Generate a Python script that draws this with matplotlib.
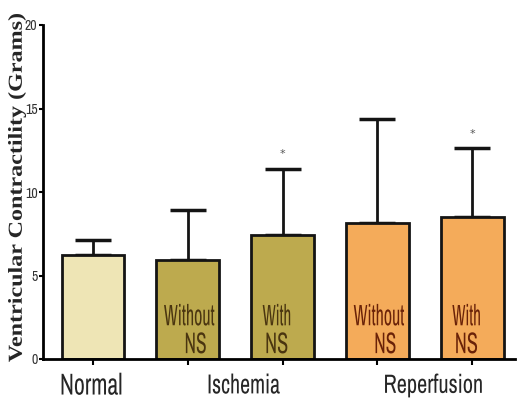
import numpy as np
import matplotlib.pyplot as plt
from matplotlib.textpath import TextPath
from matplotlib.patches import PathPatch
from matplotlib.font_manager import FontProperties
from matplotlib.transforms import Affine2D, Bbox, BboxTransform

groups = ["Normal", "Ischemia", "Reperfusion"]
bar_labels = [None, ("Without", "NS"), ("With", "NS"), ("Without", "NS"), ("With", "NS")]
means = [6.2, 5.9, 7.4, 8.15, 8.5]
sd_upper = [0.9, 3.0, 4.0, 6.25, 4.15]
starred = [False, False, True, False, True]
colors = ["#EEE5B5", "#BDAA4E", "#BDAA4E", "#F4AB5A", "#F4AB5A"]
text_colors = [None, "#4A3510", "#4A3510", "#6A2208", "#6A2208"]

narrow = FontProperties(family=["Archivo Narrow", "DejaVu Sans"])
serif_bold = FontProperties(family="Liberation Serif", weight="bold")


def boxed_text(s, box, trans, color, prop, rotate=0):
    # squeeze/stretch the glyph outlines so their ink fills the given box
    tp = TextPath((0, 0), s, size=20, prop=prop)
    if rotate:
        tp = tp.transformed(Affine2D().rotate_deg(rotate))
    fit = BboxTransform(tp.get_extents(), Bbox.from_extents(*box))
    patch = PathPatch(tp, transform=fit + trans, facecolor=color,
                      edgecolor="none", clip_on=False)
    fig.add_artist(patch)
    return patch


fig = plt.figure(figsize=(5.2, 3.99), dpi=100)
ax = fig.add_axes([43 / 520, 40 / 399, 472 / 520, 334 / 399])

x = np.arange(len(means))
ax.bar(x, means, width=0.66, color=colors, edgecolor="#141414", linewidth=2, zorder=2)
ax.errorbar(x, means, yerr=[np.zeros(len(means)), sd_upper], fmt="none",
            ecolor="#141414", elinewidth=2, capsize=13, capthick=2.5, zorder=1)

for xi, m, s, lab, st, tc in zip(x, means, sd_upper, bar_labels, starred, text_colors):
    if lab is not None:
        top, bottom = lab
        if top == "Without":
            boxed_text(top, (xi - 0.25, 2.0, xi + 0.28, 3.3), ax.transData, tc, narrow)
            boxed_text(bottom, (xi - 0.02, 0.33, xi + 0.19, 1.6), ax.transData, tc, narrow)
        else:
            boxed_text(top, (xi - 0.21, 2.0, xi + 0.08, 3.3), ax.transData, tc, narrow)
            boxed_text(bottom, (xi - 0.17, 0.33, xi + 0.05, 1.6), ax.transData, tc, narrow)
    if st:
        ax.text(xi, m + s + 0.55, "*", ha="center", va="bottom", fontsize=8,
                color="#555555")

ax.set_xlim(-0.526, 4.45)
ax.set_ylim(0, 20)
ax.set_yticks([0, 5, 10, 15, 20])
ax.set_xticks(x)
ax.set_xticklabels([])
ax.tick_params(axis="y", direction="out", length=3, width=1.5, pad=1,
               labelcolor="#333333")
ax.tick_params(axis="x", direction="out", length=4, width=1.5)
for t in ax.get_yticklabels():
    t.set_fontproperties(FontProperties(family=["Archivo Narrow", "DejaVu Sans"], size=10,
                                        stretch="condensed"))
for side in ["top", "right"]:
    ax.spines[side].set_visible(False)
ax.spines["left"].set_linewidth(2)
ax.spines["bottom"].set_linewidth(2)

# group names under the axis, tall and narrow
group_boxes = [(-0.33, -2.15, 0.3, -0.82),
               (1.22, -2.08, 1.97, -0.87),
               (3.08, -2.3, 4.1, -0.87)]
for g, b in zip(groups, group_boxes):
    boxed_text(g, b, ax.transData, "#262626", narrow)

# y-axis title
boxed_text("Ventricular Contractility (Grams)",
           (8 / 520, 1 - 362 / 399, 26 / 520, 1 - 14 / 399),
           fig.transFigure, "#262626", serif_bold, rotate=90)

fig.savefig("out.png", dpi=100)
